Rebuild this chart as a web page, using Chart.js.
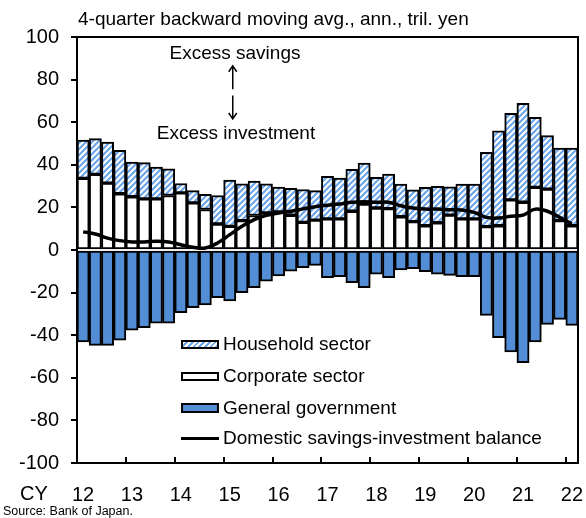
<!DOCTYPE html>
<html>
<head>
<meta charset="utf-8">
<script src="https://cdn.jsdelivr.net/npm/chart.js@4/dist/chart.umd.min.js"></script>
<style>
  body { margin: 0; background: #fff; }
  #wrap { position: relative; width: 586px; height: 518px; font-family: "Liberation Sans", Arial, sans-serif; color: #000; }
  #wrap canvas { position: absolute; left: 0; top: 0; }
  .txt { position: absolute; white-space: nowrap; line-height: 1; }
  .lg-row { position: absolute; left: 181px; height: 20px; }
  .sw { position: absolute; left: 0; width: 38px; box-sizing: border-box; border: 2px solid #000; }
  .lg-row span { position: absolute; left: 42px; top: 0; font-size: 19px; line-height: 20px; white-space: nowrap; }
</style>
</head>
<body>
<div id="wrap">
  <canvas id="chart" width="586" height="518"></canvas>
  <div class="txt" style="left:78px;top:9px;font-size:19px;">4-quarter backward moving avg., ann., tril. yen</div>
  <div class="txt" style="left:135px;width:200px;text-align:center;top:43px;font-size:19px;">Excess savings</div>
  <div class="txt" style="left:136px;width:200px;text-align:center;top:123px;font-size:19px;">Excess investment</div>
  <div class="txt" style="left:20px;top:483px;font-size:20px;">CY</div>
  <div class="txt" style="left:3px;top:505px;font-size:12.5px;">Source: Bank of Japan.</div>

  <div class="lg-row" style="top:334px;"><div class="sw" style="top:6px;height:9px;background:repeating-linear-gradient(135deg,#fff 0 2px,#6ea6ea 2px 4px);"></div><span>Household sector</span></div>
  <div class="lg-row" style="top:366px;"><div class="sw" style="top:6px;height:9px;background:#fff;"></div><span>Corporate sector</span></div>
  <div class="lg-row" style="top:398px;"><div class="sw" style="top:5px;height:10px;background:#538dd5;"></div><span>General government</span></div>
  <div class="lg-row" style="top:428px;"><div style="position:absolute;left:0;top:9px;width:38px;height:3px;background:#000;"></div><span>Domestic savings-investment balance</span></div>
</div>

<script>
// DATA //
var quarters = ["12Q1","12Q2","12Q3","12Q4","13Q1","13Q2","13Q3","13Q4","14Q1","14Q2","14Q3","14Q4",
                "15Q1","15Q2","15Q3","15Q4","16Q1","16Q2","16Q3","16Q4","17Q1","17Q2","17Q3","17Q4",
                "18Q1","18Q2","18Q3","18Q4","19Q1","19Q2","19Q3","19Q4","20Q1","20Q2","20Q3","20Q4",
                "21Q1","21Q2","21Q3","21Q4","22Q1"];
var yearLabels = ["12","13","14","15","16","17","18","19","20","21","22"];

var household = [18.0,16.8,19.3,20.4,16.3,17.0,14.9,12.5,4.4,5.8,7.1,13.4,
                 21.7,17.3,16.1,13.7,11.6,12.6,15.4,13.9,20.0,19.2,19.7,19.2,
                 14.4,16.3,15.4,14.9,18.0,17.1,13.3,16.4,16.4,34.9,44.6,40.7,
                 46.5,32.9,25.1,34.1,36.5];
var corporate = [33.6,35.5,31.4,26.4,25.0,24.0,24.0,25.6,26.8,22.1,19.0,12.2,
                 11.1,13.8,16.2,17.4,17.9,16.3,13.0,14.0,14.6,14.6,18.2,21.6,
                 19.7,19.4,15.6,13.3,11.4,12.8,16.4,14.6,14.6,11.0,11.4,23.5,
                 22.4,29.4,28.6,13.8,11.4];
var government = [-43.2,-44.8,-44.8,-42.3,-37.6,-36.5,-34.4,-34.4,-29.4,-27.1,-25.8,-22.4,
                  -23.9,-20.0,-17.7,-14.6,-12.2,-9.9,-8.3,-7.2,-13.0,-12.5,-15.3,-17.7,
                  -11.4,-13.0,-9.4,-8.8,-10.2,-11.4,-11.9,-12.5,-12.5,-30.7,-41.2,-47.9,
                  -52.9,-43.2,-34.9,-32.6,-35.4];
var balance = [8.5,7.5,5.6,4.4,3.8,3.8,4.1,3.8,2.5,1.3,0.9,3.3,
               7.2,11.1,14.3,16.3,17.4,18.2,19.3,20.3,21.0,21.6,22.4,22.7,
               22.4,22.4,20.8,19.7,19.2,19.2,18.9,18.8,17.7,15.3,15.0,15.8,
               16.4,19.2,18.2,15.3,12.2];

var fontFamily = "'Liberation Sans', Arial, sans-serif";

// HATCH PATTERN //
function makeHatch() {
    var c = document.createElement("canvas");
    c.width = 6; c.height = 6;
    var g = c.getContext("2d");
    g.fillStyle = "#fff";
    g.fillRect(0, 0, 6, 6);
    g.strokeStyle = "#6ea6ea";
    g.lineWidth = 2.2;
    g.beginPath();
    g.moveTo(0, 6); g.lineTo(6, 0);
    g.moveTo(-3, 3); g.lineTo(3, -3);
    g.moveTo(3, 9); g.lineTo(9, 3);
    g.stroke();
    return g.createPattern(c, "repeat");
}

// FRAME, INNER X TICKS AND ARROWS //
var framePlugin = {
    id: "frame",
    afterDraw: function(chart) {
        var ctx = chart.ctx, a = chart.chartArea;
        var xs = chart.scales.x, ys = chart.scales.y;
        ctx.save();
        ctx.strokeStyle = "#000";
        ctx.lineWidth = 2;
        ctx.strokeRect(a.left, a.top, a.right - a.left, a.bottom - a.top);
        // year ticks pointing up
        var step = (a.right - a.left) / quarters.length;
        ctx.beginPath();
        for (var i = 4; i < quarters.length; i += 4) {
            var px = Math.round(xs.getPixelForValue(i) - step / 2);
            ctx.moveTo(px, a.bottom);
            ctx.lineTo(px, a.bottom - 6);
        }
        ctx.stroke();
        // arrows
        var ax = xs.getPixelForValue(12) + 3;
        ctx.lineWidth = 1.5;
        function arrow(y0, y1) {
            var dir = y1 < y0 ? 1 : -1;
            ctx.beginPath();
            ctx.moveTo(ax, y0); ctx.lineTo(ax, y1);
            ctx.moveTo(ax - 4, y1 + dir * 6); ctx.lineTo(ax, y1); ctx.lineTo(ax + 4, y1 + dir * 6);
            ctx.stroke();
        }
        arrow(ys.getPixelForValue(75.5), ys.getPixelForValue(86.5));
        arrow(ys.getPixelForValue(72.5), ys.getPixelForValue(61.5));
        ctx.restore();
    }
};

var ctx = document.getElementById("chart");
var chart = new Chart(ctx, {
    type: "bar",
    data: {
        labels: quarters,
        datasets: [
            { type: "line", label: "Domestic savings-investment balance", data: balance, stack: "bal",
              borderColor: "#000", borderWidth: 3.5, pointRadius: 0, tension: 0.4, fill: false, order: 0 },
            { label: "Corporate sector", data: corporate, stack: "sb", backgroundColor: "#fff",
              borderColor: "#000", borderWidth: 2, borderSkipped: false, order: 1 },
            { label: "Household sector", data: household, stack: "sb", backgroundColor: makeHatch(),
              borderColor: "#000", borderWidth: 2, borderSkipped: false, order: 1 },
            { label: "General government", data: government, stack: "sb", backgroundColor: "#538dd5",
              borderColor: "#000", borderWidth: 2, borderSkipped: false, order: 1 }
        ]
    },
    options: {
        responsive: false,
        animation: false,
        devicePixelRatio: 1,
        layout: { padding: { top: 37, right: 8, left: 0, bottom: 0 } },
        datasets: { bar: { barPercentage: 1, categoryPercentage: 1 } },
        plugins: { legend: { display: false }, tooltip: { enabled: false } },
        scales: {
            x: {
                stacked: true,
                grid: { display: false },
                border: { display: true, color: "#000", width: 2 },
                ticks: {
                    autoSkip: false, maxRotation: 0, padding: 12, color: "#000",
                    font: { family: fontFamily, size: 20 },
                    callback: function(v, i) { return i % 4 === 0 ? yearLabels[i / 4] : ""; }
                },
                afterFit: function(s) { s.height = 55; s.paddingLeft = 0; s.paddingRight = 0; }
            },
            y: {
                stacked: true,
                min: -100, max: 100,
                ticks: { stepSize: 20, padding: 12, color: "#000", font: { family: fontFamily, size: 20 } },
                grid: { drawOnChartArea: false, tickLength: 6, color: "#000", lineWidth: 2 },
                border: { color: "#000", width: 2 },
                afterFit: function(s) { s.width = 77; s.paddingTop = 0; s.paddingBottom = 0; }
            }
        }
    },
    plugins: [framePlugin]
});
</script>
</body>
</html>
